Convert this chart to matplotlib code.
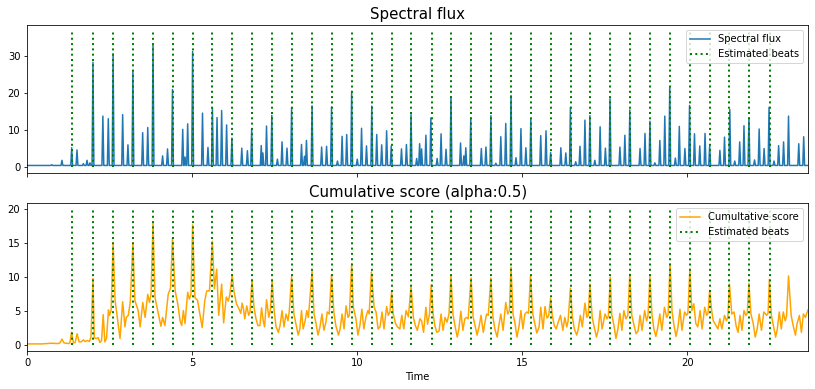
import matplotlib
matplotlib.use("Agg")
import matplotlib.pyplot as plt
import numpy as np

# ---------------- data ----------------
beat_times = [1.354, 1.99, 2.597, 3.203, 3.809, 4.415, 5.021, 5.606, 6.212, 6.809,
              7.415, 8.021, 8.627, 9.233, 9.839, 10.445, 11.052, 11.627, 12.264, 12.839,
              13.445, 14.052, 14.658, 15.264, 15.870, 16.476, 17.06, 17.658, 18.264,
              18.870, 19.476, 20.07, 20.676, 21.28, 21.87, 22.506]

# spectral flux: spike times and heights, plus the resting floor level
flux_peak_t = [0.74, 1.05, 1.345, 1.506, 1.70, 1.81, 1.90, 1.99, 2.29, 2.455, 2.60, 2.89,
               3.05, 3.20, 3.496, 3.65, 3.81, 4.10, 4.25, 4.40, 4.71, 4.78, 4.86, 5.01,
               5.31, 5.475, 5.61, 5.75, 5.89, 6.04, 6.20, 6.50, 6.67, 6.80, 7.09, 7.14,
               7.25, 7.41, 7.58, 7.72, 7.87, 8.01, 8.31, 8.40, 8.46, 8.63, 8.92, 9.07,
               9.22, 9.40, 9.54, 9.68, 9.83, 10.00, 10.13, 10.28, 10.44, 10.59, 10.74,
               10.89, 11.03, 11.34, 11.49, 11.63, 11.80, 11.89, 11.95, 12.08, 12.23,
               12.42, 12.54, 12.69, 12.84, 13.13, 13.23, 13.29, 13.44, 13.76, 13.90,
               14.05, 14.20, 14.35, 14.50, 14.66, 14.81, 14.96, 15.11, 15.26, 15.56,
               15.72, 15.86, 16.17, 16.32, 16.46, 16.62, 16.75, 16.90, 17.05, 17.20,
               17.36, 17.52, 17.66, 17.96, 18.11, 18.26, 18.57, 18.72, 18.87, 19.02,
               19.17, 19.32, 19.47, 19.64, 19.76, 19.93, 20.07, 20.22, 20.38, 20.54,
               20.68, 20.99, 21.13, 21.29, 21.44, 21.59, 21.72, 21.87, 22.04, 22.18,
               22.33, 22.48, 22.63, 22.77, 22.92, 23.07, 23.38, 23.53]
flux_peak_v = [0.5, 1.7, 5.1, 4.5, 0.8, 1.7, 1.0, 28.3, 13.7, 13.0, 30.6, 14.1,
               5.9, 26.0, 9.2, 10.6, 33.2, 2.9, 4.8, 20.9, 10.1, 2.6, 11.6, 31.2,
               14.5, 5.2, 16.0, 13.3, 15.2, 11.3, 7.7, 5.0, 4.3, 10.3, 5.7, 3.7,
               11.0, 13.9, 2.0, 6.7, 5.0, 16.0, 6.0, 2.8, 7.1, 16.5, 5.3, 5.5,
               16.2, 1.5, 8.2, 8.7, 20.4, 2.0, 10.4, 5.6, 16.4, 8.7, 5.9,
               9.7, 5.6, 4.8, 6.0, 14.1, 2.2, 6.2, 4.8, 8.5, 13.2,
               2.2, 8.9, 4.7, 19.0, 6.4, 2.9, 5.1, 13.2, 4.9, 5.3,
               13.8, 0.9, 8.1, 11.7, 19.3, 2.4, 10.3, 5.1, 13.0, 8.4,
               9.7, 3.8, 5.1, 3.7, 16.1, 1.3, 5.5, 12.6, 13.8, 1.7,
               10.8, 5.0, 18.4, 5.3, 8.5, 15.4, 4.9, 9.0, 12.3, 1.0,
               7.1, 13.7, 21.5, 2.3, 10.9, 4.9, 16.6, 8.9, 5.6, 9.0,
               5.6, 4.4, 8.0, 15.5, 1.5, 6.7, 11.1, 13.2, 1.8, 10.2,
               4.9, 16.1, 1.5, 5.7, 6.7, 13.7, 6.2, 8.1]
flux_floor = 0.3
flux_end = 23.66

# cumulative score curve
cum_t = [0.00, 0.44, 0.74, 0.94, 0.99, 1.05, 1.11, 1.24, 1.29, 1.34, 1.40, 1.45, 1.51,
         1.57, 1.63, 1.70, 1.75, 1.82, 1.88, 1.93, 1.99, 2.03, 2.09, 2.15, 2.20, 2.25,
         2.30, 2.35, 2.40, 2.46, 2.49, 2.54, 2.60, 2.66, 2.74, 2.81, 2.89, 2.96, 3.00,
         3.06, 3.12, 3.20, 3.26, 3.36, 3.42, 3.50, 3.57, 3.65, 3.70, 3.75, 3.81, 3.87,
         3.95, 4.05, 4.10, 4.17, 4.27, 4.34, 4.40, 4.48, 4.56, 4.63, 4.68, 4.73, 4.78,
         4.86, 4.91, 4.96, 5.01, 5.08, 5.16, 5.23, 5.30, 5.38, 5.44, 5.52, 5.61, 5.67,
         5.74, 5.80, 5.89, 5.95, 6.03, 6.09, 6.14, 6.21, 6.26, 6.34, 6.42, 6.47, 6.51,
         6.55, 6.59, 6.65, 6.71, 6.75, 6.81, 6.87, 6.93, 6.99, 7.05, 7.10, 7.15, 7.19,
         7.25, 7.32, 7.37, 7.42, 7.48, 7.54, 7.61, 7.66, 7.72, 7.78, 7.84, 7.90, 7.94,
         8.01, 8.08, 8.14, 8.21, 8.26, 8.31, 8.36, 8.42, 8.47, 8.52, 8.63, 8.69, 8.75,
         8.81, 8.87, 8.93, 8.99, 9.05, 9.09, 9.15, 9.22, 9.29, 9.35, 9.43, 9.48, 9.54,
         9.60, 9.66, 9.72, 9.76, 9.83, 9.88, 9.96, 10.02, 10.08, 10.14, 10.20, 10.26,
         10.32, 10.36, 10.43, 10.51, 10.57, 10.63, 10.69, 10.75, 10.81, 10.89, 10.94,
         10.99, 11.04, 11.09, 11.16, 11.22, 11.29, 11.35, 11.41, 11.48, 11.55, 11.63,
         11.70, 11.76, 11.82, 11.90, 11.95, 12.01, 12.08, 12.13, 12.19, 12.24, 12.30,
         12.35, 12.41, 12.48, 12.54, 12.60, 12.66, 12.72, 12.78, 12.84, 12.90, 12.96,
         13.03, 13.08, 13.14, 13.20, 13.26, 13.31, 13.36, 13.45, 13.51, 13.57, 13.63,
         13.69, 13.75, 13.82, 13.87, 13.92, 13.97, 14.05, 14.11, 14.17, 14.24, 14.29,
         14.35, 14.42, 14.50, 14.56, 14.61, 14.66, 14.72, 14.78, 14.84, 14.90, 14.96,
         15.02, 15.08, 15.14, 15.19, 15.25, 15.32, 15.38, 15.44, 15.51, 15.56, 15.63,
         15.69, 15.75, 15.80, 15.86, 15.91, 15.97, 16.03, 16.09, 16.16, 16.23, 16.29,
         16.35, 16.39, 16.46, 16.52, 16.58, 16.65, 16.70, 16.76, 16.82, 16.90, 16.96,
         17.00, 17.05, 17.12, 17.18, 17.25, 17.30, 17.36, 17.42, 17.51, 17.57, 17.61,
         17.67, 17.71, 17.78, 17.84, 17.90, 17.96, 18.02, 18.08, 18.14, 18.20, 18.26,
         18.32, 18.39, 18.45, 18.51, 18.57, 18.63, 18.71, 18.77, 18.81, 18.87, 18.93,
         18.99, 19.05, 19.11, 19.17, 19.23, 19.31, 19.38, 19.42, 19.48, 19.54, 19.60,
         19.66, 19.72, 19.78, 19.84, 19.92, 19.98, 20.02, 20.08, 20.14, 20.20, 20.26,
         20.32, 20.39, 20.45, 20.53, 20.59, 20.63, 20.68, 20.74, 20.79, 20.87, 20.93,
         20.99, 21.05, 21.13, 21.19, 21.23, 21.28, 21.35, 21.42, 21.48, 21.54, 21.60,
         21.66, 21.72, 21.78, 21.82, 21.87, 21.93, 22.00, 22.06, 22.12, 22.18, 22.25,
         22.32, 22.41, 22.45, 22.49, 22.55, 22.61, 22.68, 22.73, 22.79, 22.85, 22.91,
         22.97, 23.01, 23.07, 23.15, 23.21, 23.28, 23.33, 23.40, 23.46, 23.52, 23.58,
         23.66]
cum_v = [0.1, 0.1, 0.2, 0.15, 0.25, 0.8, 0.25, 0.15, 0.25, 1.8, 0.25, 0.3, 1.6,
         0.4, 0.4, 0.7, 0.45, 0.6, 0.45, 1.1, 9.7, 1.0, 0.9, 1.0, 0.3, 0.6,
         4.4, 0.4, 0.9, 5.1, 4.3, 5.0, 15.0, 6.5, 3.5, 0.9, 6.3, 2.6, 4.0,
         4.3, 6.2, 15.0, 6.5, 5.0, 2.6, 6.2, 4.0, 7.4, 6.2, 7.4, 18.0, 6.9,
         5.0, 2.7, 4.0, 2.8, 7.4, 8.3, 15.7, 7.9, 6.0, 3.5, 2.8, 5.0, 3.1,
         7.7, 6.7, 7.4, 17.6, 6.9, 6.5, 4.5, 2.5, 6.5, 7.9, 7.9, 15.2, 8.2,
         11.1, 4.3, 8.9, 3.2, 7.0, 6.4, 7.4, 10.3, 7.9, 6.0, 5.2, 4.6, 6.1,
         5.3, 3.8, 5.7, 4.3, 4.8, 9.6, 5.5, 3.8, 2.8, 2.8, 5.4, 3.5, 2.6,
         6.6, 4.0, 5.2, 9.6, 5.0, 2.6, 1.8, 2.8, 5.0, 2.6, 4.5, 3.5, 4.9,
         10.0, 4.5, 3.1, 1.4, 2.3, 5.0, 2.3, 3.5, 5.0, 4.0, 10.8, 4.5, 3.1,
         1.4, 2.6, 4.5, 2.1, 3.3, 4.8, 4.5, 10.3, 4.8, 2.8, 1.4, 2.3, 4.5,
         2.3, 5.7, 4.0, 4.3, 11.9, 5.5, 3.8, 1.4, 2.8, 5.2, 2.3, 4.0,
         5.0, 4.5, 10.7, 5.5, 4.8, 2.3, 2.6, 4.8, 2.3, 5.6, 4.3,
         4.8, 7.8, 4.5, 3.1, 2.6, 2.3, 4.3, 2.3, 5.0, 4.1, 8.6,
         4.0, 2.8, 2.1, 3.8, 3.5, 1.8, 5.5, 3.0, 4.5, 8.8, 4.5,
         2.8, 1.8, 2.0, 4.5, 2.1, 4.0, 3.3, 4.5, 10.1, 4.5, 2.8,
         1.1, 2.3, 4.9, 2.1, 3.8, 4.0, 3.8, 9.8, 4.1, 2.8, 1.4,
         2.6, 4.3, 1.8, 3.3, 4.5, 4.3, 9.8, 4.1, 2.3, 1.1, 2.8,
         4.5, 2.1, 6.2, 4.5, 5.0, 11.4, 4.5, 3.1, 1.1, 2.6, 5.0,
         2.3, 4.5, 4.8, 4.6, 10.1, 4.5, 3.1, 1.7, 2.6, 5.5, 2.3,
         5.6, 3.9, 4.2, 6.8, 4.3, 2.8, 2.3, 3.3, 4.3, 2.1, 4.0,
         2.6, 3.5, 8.3, 4.0, 2.3, 1.4, 2.3, 4.3, 2.6, 6.1, 4.0,
         4.3, 8.9, 4.0, 2.6, 1.1, 2.1, 5.0, 2.3, 4.5, 3.8, 4.2,
         9.9, 4.5, 2.8, 0.9, 2.3, 4.6, 2.1, 5.0, 3.8, 4.3, 10.4,
         4.3, 2.8, 1.6, 2.0, 4.3, 2.1, 5.0, 3.5, 4.2, 10.0, 4.5,
         2.3, 1.2, 2.6, 4.5, 2.1, 5.5, 4.0, 4.4, 11.9, 4.8, 2.8,
         1.2, 2.6, 5.2, 2.1, 4.8, 4.3, 4.6, 11.1, 5.0, 6.0, 3.1,
         2.6, 5.0, 2.3, 5.5, 4.3, 4.6, 8.0, 5.0, 3.5, 2.8, 2.3,
         3.8, 2.3, 4.3, 3.5, 4.0, 8.9, 4.5, 4.8, 2.8, 1.8, 4.3,
         2.1, 5.0, 4.3, 4.6, 9.0, 4.5, 3.1, 1.1, 2.3, 4.5, 2.1,
         4.8, 4.3, 4.6, 9.6, 4.3, 2.8, 1.1, 2.3, 4.8, 2.3, 4.8,
         3.5, 4.2, 10.1, 4.3, 2.8, 1.4, 3.1, 4.3, 1.8, 4.5, 4.0,
         5.1]

# ---------------- build spectral-flux polyline ----------------
half_w = 0.028
ft = [0.0]
fv = [flux_floor]
for t, v in zip(flux_peak_t, flux_peak_v):
    ft += [t - half_w, t, t + half_w]
    fv += [flux_floor, v, flux_floor]
ft.append(flux_end)
fv.append(flux_floor)

# ---------------- plotting ----------------
fig = plt.figure(figsize=(815 / 72, 389 / 72), dpi=72)
ax1 = fig.add_subplot(2, 1, 1)
ax2 = fig.add_subplot(2, 1, 2, sharex=ax1)
fig.subplots_adjust(left=0.0335, right=0.9914, top=0.935, bottom=0.0969, hspace=0.2027)

ax1.plot(ft, fv, color="#1f77b4", lw=1.5, label="Spectral flux")
ax1.vlines(beat_times, 0, 1.1 * max(flux_peak_v), color="green", linestyles=":",
           lw=2, label="Estimated beats")
ax1.set_title("Spectral flux", fontsize=15)
ax1.legend(loc="upper right")
ax1.tick_params(labelbottom=False)

ax2.plot(cum_t, cum_v, color="orange", lw=1.5, label="Cumultative score")
ax2.vlines(beat_times, 0, 1.1 * max(cum_v), color="green", linestyles=":",
           lw=2, label="Estimated beats")
ax2.set_title("Cumulative score (alpha:0.5)", fontsize=15)
ax2.legend(loc="upper right")
ax2.set_xlabel("Time")
ax2.set_xlim(0, flux_end)
ax2.set_xticks([0, 5, 10, 15, 20])
ax1.set_yticks([0, 10, 20, 30])
ax2.set_yticks([0, 5, 10, 15, 20])

fig.savefig("out.png", dpi=72)
